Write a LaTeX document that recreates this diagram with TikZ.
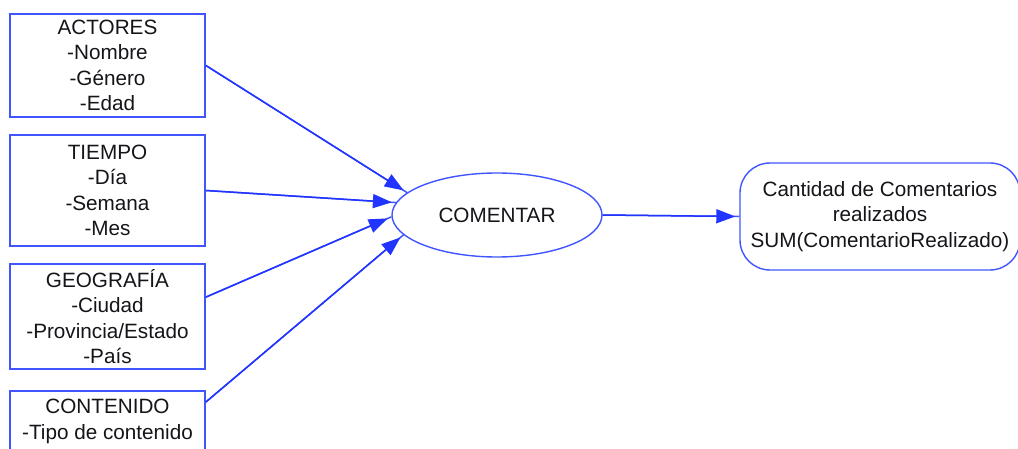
\documentclass[tikz,border=0pt]{standalone}
\usepackage{fontspec}
\setmainfont{Liberation Sans}
\usetikzlibrary{shapes.geometric,arrows.meta}
\definecolor{edgeblue}{RGB}{64,84,255}
\definecolor{tipblue}{RGB}{34,52,255}
\definecolor{inkgray}{RGB}{20,20,25}

\begin{document}
\begin{tikzpicture}[x=1pt,y=-1pt,
  every node/.style={font=\fontsize{20.7}{25.5}\selectfont, text=inkgray},
  dimbox/.style={draw=edgeblue, line width=1.8pt, rectangle, minimum width=195pt,
    align=center, inner sep=0pt},
  factnode/.style={draw=edgeblue, line width=1.4pt, ellipse, minimum width=210pt,
    minimum height=84pt, inner sep=0pt},
  measurebox/.style={draw=edgeblue, line width=1.4pt, rectangle, rounded corners=30pt,
    minimum width=280pt, minimum height=107pt, align=center, inner sep=0pt},
  link/.style={draw=edgeblue, line width=1.5pt,
    postaction={draw=tipblue, -{Triangle[length=19pt,width=14pt]}, shorten >=4pt}}
]
\useasboundingbox (0,0) rectangle (1018,449);

% dimension boxes
\node[dimbox, minimum height=103pt] (act) at (107.5,65.5)
  {ACTORES\\-Nombre\\-Género\\-Edad};
\node[dimbox, minimum height=111pt] (tie) at (107.5,190.5)
  {TIEMPO\\-Día\\-Semana\\-Mes};
\node[dimbox, minimum height=105pt] (geo) at (107.5,316.5)
  {GEOGRAFÍA\\-Ciudad\\-Provincia/Estado\\-País};
\node[dimbox, minimum height=110pt, anchor=north] (cont) at (107.5,390) {};
\node[align=center, inner sep=0pt] (contText) at (107.5,421.5)
  {CONTENIDO\\-Tipo de contenido};

% fact and measure
\node[factnode] (com) at (497,215) {COMENTAR};
\node[measurebox] (meas) at (880,216.5)
  {Cantidad de Comentarios\\realizados\\SUM(ComentarioRealizado)};

% connectors
\draw[link] (act.east) -- (com.166);
\draw[link] (tie.east) -- (com.173);
\draw[link] ([yshift=-34pt]geo.north east) -- (com.181);
\draw[link] ([yshift=-12pt]cont.north east) -- (com.192);
\draw[link] (com.east) -- (meas.west);
\end{tikzpicture}
\end{document}
